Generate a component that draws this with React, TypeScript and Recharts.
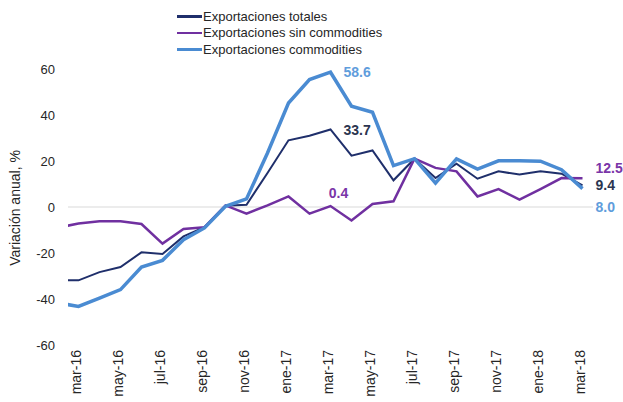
import React from 'react';
import { LineChart, Line, XAxis, YAxis, ReferenceLine, LabelList, Legend } from 'recharts';

const months = ['feb-16', 'mar-16', 'abr-16', 'may-16', 'jun-16', 'jul-16', 'ago-16', 'sep-16', 'oct-16', 'nov-16', 'dic-16', 'ene-17', 'feb-17', 'mar-17', 'abr-17', 'may-17', 'jun-17', 'jul-17', 'ago-17', 'sep-17', 'oct-17', 'nov-17', 'dic-17', 'ene-18', 'feb-18', 'mar-18'];
const totales = [-31.9, -31.9, -28.3, -26.1, -19.7, -20.4, -12.8, -8.8, 0.5, 1.0, 14.8, 29.0, 31.0, 33.7, 22.3, 24.6, 11.6, 21.0, 12.6, 18.8, 12.3, 15.5, 14.1, 15.5, 14.5, 9.4];
const sinCommodities = [-9.0, -7.2, -6.2, -6.2, -7.4, -15.9, -9.6, -8.8, 0.7, -2.9, 0.7, 4.6, -2.9, 0.4, -5.9, 1.3, 2.5, 21.0, 17.0, 15.5, 4.6, 7.8, 3.2, 7.8, 12.6, 12.5];
const commodities = [-41.7, -43.2, -39.6, -35.9, -26.1, -23.2, -14.2, -9.1, 0.3, 3.5, 23.5, 45.2, 55.4, 58.6, 43.8, 41.2, 18.0, 21.0, 10.4, 20.9, 16.5, 20.1, 20.1, 19.9, 16.2, 8.0];
const yTicks = [-60, -40, -20, 0, 20, 40, 60];
const xTicks = [0, 2, 4, 6, 8, 10, 12, 14, 16, 18, 20, 22, 24];

const data = months.map((m, i) => ({
  t: i - 1,
  mes: m,
  totales: totales[i],
  sin: sinCommodities[i],
  com: commodities[i],
}));

const series = [
  { key: 'totales', name: 'Exportaciones totales', color: '#1f2f6b', label: '#2b3550', width: 2 },
  { key: 'sin', name: 'Exportaciones sin commodities', color: '#7030a0', label: '#7a35a8', width: 2.5 },
  { key: 'com', name: 'Exportaciones commodities', color: '#4a8bd2', label: '#5f9ddc', width: 3.5 },
];

// label placement per series: index -> [dx, dy, anchor]
const labelSpots: Record<string, Record<number, [number, number, string]>> = {
  totales: { 13: [13, 0, 'start'], 25: [13, 0, 'start'] },
  sin: { 13: [8, -13, 'middle'], 25: [13, -10, 'start'] },
  com: { 13: [13, 0, 'start'], 25: [13, 18, 'start'] },
};

const makeLabel = (key: string, color: string) => (props: any) => {
  const { x, y, index, value } = props;
  const spot = labelSpots[key][index];
  if (!spot) return null;
  return (
    <text
      x={x + spot[0]}
      y={y + spot[1]}
      dy="0.36em"
      textAnchor={spot[2]}
      fill={color}
      fontSize={14}
      fontWeight="bold"
      fontFamily="Liberation Sans, Arial, sans-serif"
    >
      {Number(value).toFixed(1)}
    </text>
  );
};

const XTick = (props: any) => {
  const { x, y, payload } = props;
  const label = months[payload.value + 1];
  const tx = x + 2;
  return (
    <text
      x={tx}
      y={y}
      transform={`rotate(-90 ${tx} ${y})`}
      textAnchor="end"
      fill="#262626"
      fontSize={14}
      fontFamily="Liberation Sans, Arial, sans-serif"
    >
      {label}
    </text>
  );
};

const LegendContent = () => (
  <div style={{ fontFamily: 'Liberation Sans, Arial, sans-serif', fontSize: 13, color: '#262626' }}>
    {series.map((s) => (
      <div key={s.key} style={{ display: 'flex', alignItems: 'center', height: 16.5, whiteSpace: 'nowrap' }}>
        <div style={{ width: 25, height: 2.5, background: s.color, marginRight: 1 }} />
        <span>{s.name}</span>
      </div>
    ))}
  </div>
);

const YLabel = () => (
  <text
    x={20}
    y={208}
    transform="rotate(-90 20 208)"
    textAnchor="middle"
    fill="#262626"
    fontSize={14}
    fontFamily="Liberation Sans, Arial, sans-serif"
  >
    Variación anual, %
  </text>
);

export default function App() {
  return (
    <div style={{ position: 'absolute', left: 0, top: 0, background: '#fff' }}>
      <LineChart width={623} height={402} data={data} margin={{ top: 69, right: 30, bottom: 0, left: 0 }}>
        <XAxis
          dataKey="t"
          type="number"
          domain={[-0.5, 24.5]}
          ticks={xTicks}
          interval={0}
          allowDataOverflow
          axisLine={false}
          tickLine={false}
          tickSize={0}
          tickMargin={5}
          height={57}
          tick={<XTick />}
        />
        <YAxis
          type="number"
          domain={[-60, 60]}
          ticks={yTicks}
          interval={0}
          width={68}
          axisLine={false}
          tickLine={false}
          tickSize={0}
          tickMargin={13}
          tick={{ fill: '#262626', fontSize: 13, fontFamily: 'Liberation Sans, Arial, sans-serif' }}
          label={<YLabel />}
        />
        <ReferenceLine y={0} stroke="#d9d9d9" strokeWidth={1.2} />
        <Legend
          layout="vertical"
          verticalAlign="middle"
          align="center"
          content={<LegendContent />}
          wrapperStyle={{ top: 8, left: 177, width: 260, height: 50 }}
        />
        {series.map((s) => (
          <Line
            key={s.key}
            dataKey={s.key}
            name={s.name}
            stroke={s.color}
            strokeWidth={s.width}
            dot={false}
            type="linear"
            isAnimationActive={false}
          >
            <LabelList dataKey={s.key} content={makeLabel(s.key, s.label)} />
          </Line>
        ))}
      </LineChart>
    </div>
  );
}
